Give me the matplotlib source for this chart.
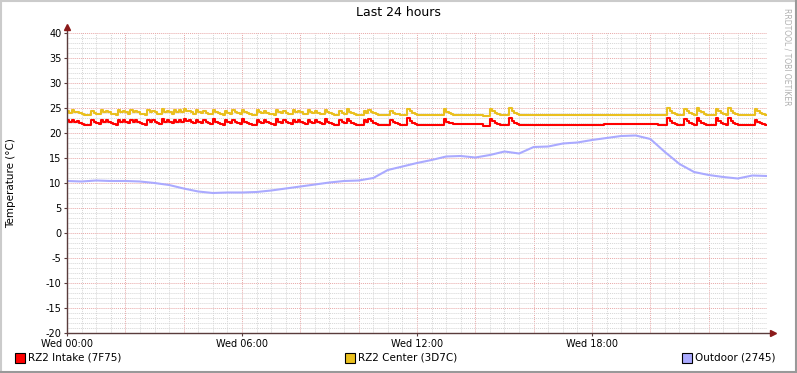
import numpy as np
import matplotlib
matplotlib.use("Agg")
import matplotlib.pyplot as plt
from matplotlib.patches import Rectangle
from matplotlib.lines import Line2D

plt.rcParams["axes.unicode_minus"] = False

# --- data (hours since Wed 00:00, degrees C) ---
outdoor_h = np.arange(0, 24.5, 0.5)
outdoor_v = [10.4, 10.3, 10.5, 10.4, 10.4, 10.3, 10.0, 9.6, 8.9, 8.3,
             8.0, 8.1, 8.1, 8.2, 8.5, 8.9, 9.3, 9.7, 10.1, 10.4,
             10.5, 11.0, 12.6, 13.3, 14.0, 14.6, 15.3, 15.4, 15.1, 15.6,
             16.3, 15.9, 17.2, 17.3, 17.9, 18.1, 18.6, 19.0, 19.4, 19.5,
             18.8, 16.2, 13.8, 12.2, 11.6, 11.2, 10.9, 11.5, 11.4]

spike_h = [0.0, 0.17, 0.34, 0.82, 1.17, 1.37, 1.71, 1.89, 2.19, 2.37,
           2.74, 2.95, 3.22, 3.43, 3.63, 3.84, 4.01, 4.18, 4.42, 4.70,
           5.04, 5.38, 5.66, 6.03, 6.51, 6.79, 7.13, 7.41, 7.71, 7.92,
           8.26, 8.50, 8.84, 9.36, 9.60, 10.15, 10.32, 11.07, 11.66, 12.92,
           14.54, 15.19, 20.57, 21.19, 21.60, 22.28, 22.70, 23.59]
intake_peak = [22.6, 22.7, 22.4, 22.6, 22.7, 22.6, 22.7, 22.6, 22.7, 22.6,
               22.7, 22.6, 22.8, 22.6, 22.7, 22.7, 22.9, 22.6, 22.7, 22.6,
               22.8, 22.6, 22.7, 22.8, 22.7, 22.6, 22.8, 22.6, 22.7, 22.6,
               22.7, 22.6, 22.8, 22.6, 22.9, 22.6, 22.8, 22.6, 23.0, 22.8,
               22.9, 23.0, 23.0, 22.9, 23.1, 23.0, 23.1, 22.7]
center_peak = [24.5, 24.7, 24.3, 24.5, 24.6, 24.5, 24.6, 24.5, 24.6, 24.5,
               24.6, 24.5, 24.8, 24.5, 24.6, 24.6, 24.9, 24.5, 24.6, 24.5,
               24.7, 24.5, 24.6, 24.7, 24.6, 24.5, 24.7, 24.5, 24.6, 24.5,
               24.6, 24.5, 24.7, 24.5, 24.8, 24.5, 24.7, 24.5, 24.9, 24.8,
               24.9, 25.0, 25.0, 24.9, 25.1, 24.9, 25.0, 24.8]

intake_base_h = [0, 13.1, 14.2, 14.5, 18.4, 20.2]
intake_base_v = [21.6, 21.8, 21.4, 21.6, 21.8, 21.6]
center_base_h = [0, 14.2, 14.5]
center_base_v = [23.6, 23.4, 23.7]

x_ticks = [0, 6, 12, 18]
x_labels = ["Wed 00:00", "Wed 06:00", "Wed 12:00", "Wed 18:00"]
y_ticks = list(range(-20, 41, 5))

series_names = ["RZ2 Intake (7F75)", "RZ2 Center (3D7C)", "Outdoor (2745)"]
series_colors = ["#FF0000", "#EAC01E", "#AAAAFF"]


def build(base_h, base_v, peaks):
    # 5 minute samples: step baseline plus a decaying spike at each onset
    t = np.arange(0, 24 + 1e-9, 1 / 12)
    idx = np.searchsorted(base_h, t, side="right") - 1
    v = np.array(base_v)[idx]
    decay = [1.0, 0.55, 0.3, 0.12]
    for h, p in zip(spike_h, peaks):
        k0 = int(round(h * 12))
        for j, f in enumerate(decay):
            k = k0 + j
            if k < len(v):
                v[k] = max(v[k], v[k] + f * (p - v[k]))
    return t, v


t_in, v_in = build(intake_base_h, intake_base_v, intake_peak)
t_ce, v_ce = build(center_base_h, center_base_v, center_peak)

W, H = 797, 373
fig = plt.figure(figsize=(W / 100, H / 100), dpi=100, facecolor="white")
ax = fig.add_axes([67 / W, 1 - 333 / H, 700 / W, 300 / H])
ax.set_facecolor("white")
ax.set_xlim(0, 24)
ax.set_ylim(-20, 40)

# grid
for h in np.arange(0.5, 24.01, 0.5):
    major = abs(h / 2 - round(h / 2)) < 1e-6
    ax.axvline(h, color="#E8A8A8" if major else "#D6D6D6", lw=0.7,
               ls=(0, (1, 1)), zorder=0)
for y in range(-19, 41):
    major = y % 5 == 0
    ax.axhline(y, color="#E8A8A8" if major else "#D6D6D6", lw=0.7,
               ls=(0, (1, 1)), zorder=0)

ax.plot(outdoor_h, outdoor_v, color=series_colors[2], lw=1.5, zorder=2)
ax.plot(t_ce, v_ce, color=series_colors[1], lw=1.5, drawstyle="steps-post", zorder=3)
ax.plot(t_in, v_in, color=series_colors[0], lw=1.5, drawstyle="steps-post", zorder=4)

for s in ax.spines.values():
    s.set_visible(False)

axis_c = "#5A3C3C"
ax.plot([0, 24.15], [-20, -20], color=axis_c, lw=1, clip_on=False, zorder=5)
ax.plot([0, 0], [-20, 41.1], color=axis_c, lw=1, clip_on=False, zorder=5)
ax.plot(24.2, -20, marker=">", ms=4, color="#8B1A1A", clip_on=False, zorder=6)
ax.plot(0, 41.2, marker="^", ms=4, color="#8B1A1A", clip_on=False, zorder=6)

ax.set_xticks(x_ticks)
ax.set_xticklabels(x_labels)
ax.set_yticks(y_ticks)
ax.tick_params(axis="both", length=2, width=0.8, color=axis_c,
               labelsize=7, pad=2, labelcolor="black")

fig.text(398 / W, 1 - 13 / H, "Last 24 hours", ha="center", va="center", fontsize=9)
fig.text(11 / W, 1 - 183 / H, "Temperature (°C)", rotation=90, ha="center",
         va="center", fontsize=7.5)
fig.text(787 / W, 1 - 8 / H, "RRDTOOL / TOBI OETIKER", rotation=270, ha="center",
         va="top", fontsize=5.5, color="#B0B0B0")

# legend
leg_x = [15, 345, 682]
for x0, name, c in zip(leg_x, series_names, series_colors):
    fig.add_artist(Rectangle((x0 / W, 1 - 363 / H), 10 / W, 10 / H,
                             transform=fig.transFigure, fc=c, ec="black", lw=0.8))
    fig.text((x0 + 13) / W, 1 - 358 / H, name, ha="left", va="center", fontsize=7.5)

# frame
fig.add_artist(Line2D([0, 1], [1 - 1 / H, 1 - 1 / H], transform=fig.transFigure,
                      color="#CBCBCB", lw=1.5))
fig.add_artist(Line2D([1 / W, 1 / W], [0, 1], transform=fig.transFigure,
                      color="#CBCBCB", lw=1.5))
fig.add_artist(Line2D([0, 1], [1 / H, 1 / H], transform=fig.transFigure,
                      color="#999999", lw=1.5))
fig.add_artist(Line2D([1 - 1 / W, 1 - 1 / W], [0, 1], transform=fig.transFigure,
                      color="#999999", lw=1.5))

fig.savefig("out.png", dpi=100, facecolor="white")
